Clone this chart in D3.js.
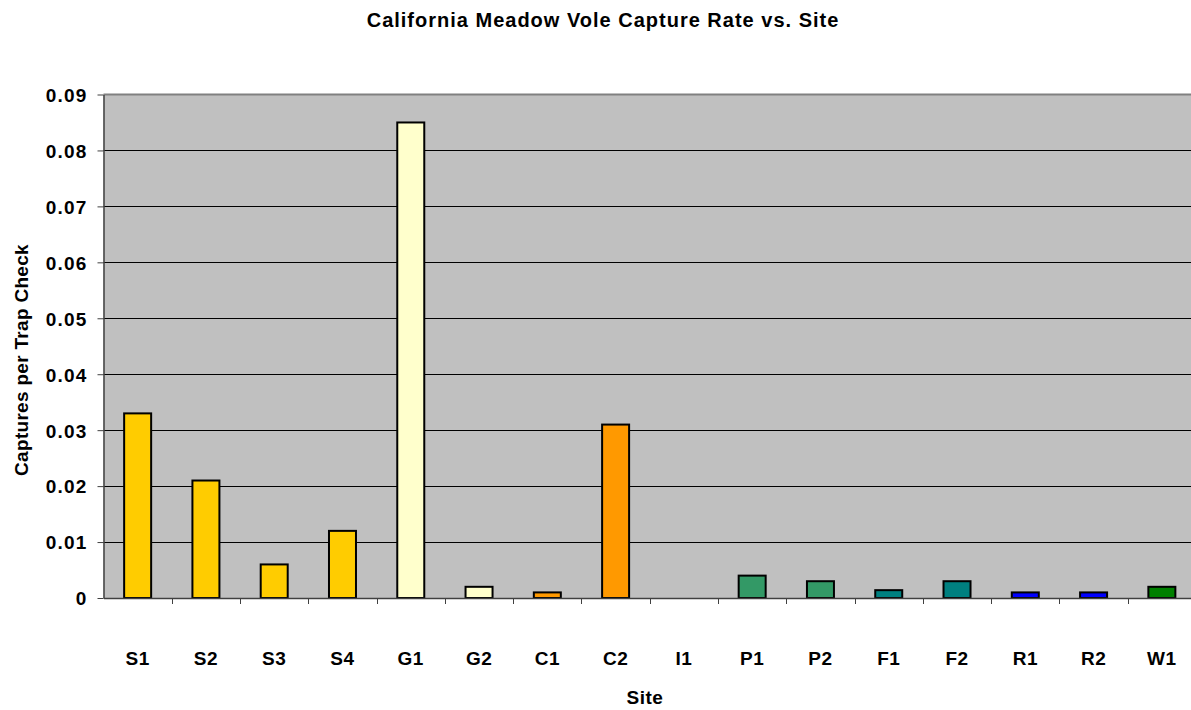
<!DOCTYPE html>
<html><head><meta charset="utf-8">
<script src="https://cdn.jsdelivr.net/npm/d3@7"></script>
<style>body{margin:0;background:#fff;} svg{display:block;font-family:"Liberation Sans",Arial,sans-serif;}</style>
</head><body>
<script>
const categories = ["S1","S2","S3","S4","G1","G2","C1","C2","I1","P1","P2","F1","F2","R1","R2","W1"];
const values = [0.033,0.021,0.006,0.012,0.085,0.002,0.001,0.031,0,0.004,0.003,0.0014,0.003,0.001,0.001,0.002];
const colors = ["#FFCC00","#FFCC00","#FFCC00","#FFCC00","#FFFFCC","#FFFFCC","#FF9900","#FF9900","#FF9900","#339966","#339966","#008080","#008080","#0000FF","#0000FF","#008000"];
const yTicks = [0,0.01,0.02,0.03,0.04,0.05,0.06,0.07,0.08,0.09];

const W = 1191, H = 710;
const m = {left:103.5, right:1196, top:94.5, bottom:598};
const svg = d3.select("body").append("svg").attr("width",W).attr("height",H);

const x = d3.scaleBand().domain(categories).range([m.left,m.right]).paddingInner(0).paddingOuter(0);
const y = d3.scaleLinear().domain([0,0.09]).range([m.bottom,m.top]);

svg.append("rect").attr("x",m.left).attr("y",m.top).attr("width",m.right-m.left).attr("height",m.bottom-m.top).attr("fill","#C0C0C0");
svg.append("line").attr("x1",m.left).attr("x2",m.right).attr("y1",m.top).attr("y2",m.top).attr("stroke","#808080").attr("stroke-width",2);

// gridlines
svg.append("g").selectAll("line").data(yTicks.filter(d=>d>0&&d<0.09)).join("line")
  .attr("x1",m.left).attr("x2",m.right).attr("y1",d=>Math.round(y(d))+0.5).attr("y2",d=>Math.round(y(d))+0.5)
  .attr("stroke","#000").attr("stroke-width",1);

// bars
const bw = 27;
svg.append("g").selectAll("rect").data(categories).join("rect")
  .attr("x",(d)=>x(d)+x.bandwidth()/2-bw/2)
  .attr("y",(d,i)=>y(values[i]))
  .attr("width",bw)
  .attr("height",(d,i)=>y(0)-y(values[i]))
  .attr("fill",(d,i)=>colors[i])
  .attr("stroke",(d,i)=>values[i]>0?"#000":"none").attr("stroke-width",2);

// y axis
const ya = svg.append("g").attr("transform",`translate(${m.left},0)`)
  .call(d3.axisLeft(y).tickValues(yTicks).tickFormat(d=>d===0?"0":d3.format(".2f")(d)).tickSize(6).tickSizeOuter(0));
ya.select(".domain").attr("stroke","#404040").attr("stroke-width",1.5);
ya.selectAll(".tick line").attr("stroke","#404040");
ya.selectAll("text").attr("font-size",19).attr("font-weight","bold").attr("fill","#000").attr("x",-16).attr("dy","0.36em")
  .attr("letter-spacing",1.2).attr("font-family","Liberation Sans, Arial, sans-serif");

// x axis
const xa = svg.append("g").attr("transform",`translate(0,${m.bottom})`)
  .call(d3.axisBottom(x).tickSize(0).tickSizeOuter(0));
xa.select(".domain").attr("stroke","#404040").attr("stroke-width",1.5);
xa.selectAll("text").attr("font-size",19).attr("font-weight","bold").attr("fill","#000").attr("dy",0).attr("y",67)
  .attr("letter-spacing",0.5).attr("font-family","Liberation Sans, Arial, sans-serif");
// boundary ticks
svg.append("g").selectAll("line").data(categories.slice(1)).join("line")
  .attr("x1",d=>Math.round(x(d))+0.5).attr("x2",d=>Math.round(x(d))+0.5)
  .attr("y1",m.bottom).attr("y2",m.bottom+6).attr("stroke","#404040").attr("stroke-width",1);

svg.append("text").attr("x",603).attr("y",27).attr("text-anchor","middle").attr("font-size",20).attr("letter-spacing",1).attr("font-weight","bold").text("California Meadow Vole Capture Rate vs. Site");
svg.append("text").attr("x",645).attr("y",704).attr("text-anchor","middle").attr("font-size",19).attr("letter-spacing",0.5).attr("font-weight","bold").text("Site");
svg.append("text").attr("transform",`translate(28,360) rotate(-90)`).attr("text-anchor","middle").attr("font-size",19).attr("letter-spacing",0.3).attr("font-weight","bold").text("Captures per Trap Check");
</script>
</body></html>
